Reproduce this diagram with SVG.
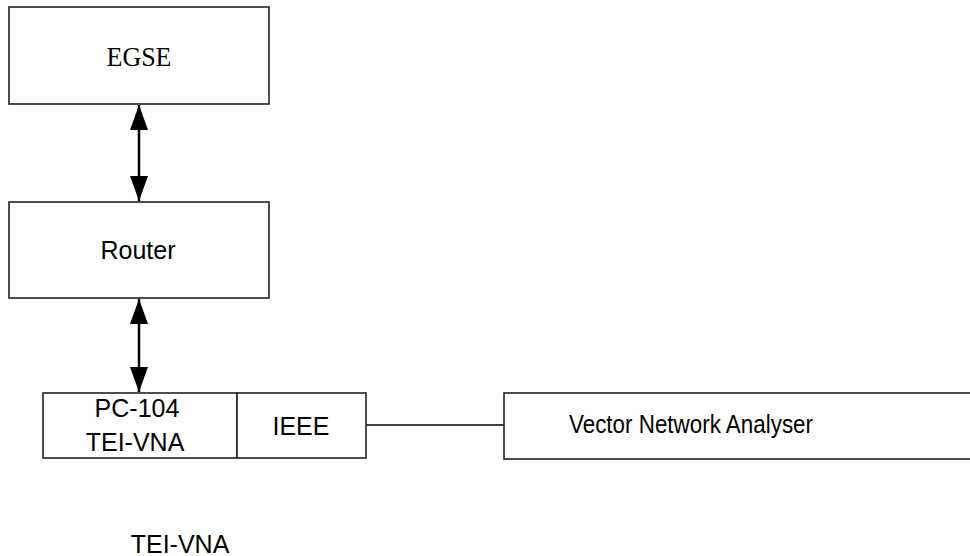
<svg xmlns="http://www.w3.org/2000/svg" width="970" height="556" viewBox="0 0 970 556">
<style>
.box{fill:#fff;stroke:#222;stroke-width:1.6}
.t{font-family:"Liberation Sans",Arial,sans-serif;font-size:25px;fill:#000;text-anchor:middle}
.ts{font-family:"Liberation Serif","Times New Roman",serif;font-size:27px;fill:#000;text-anchor:middle}
.ln{stroke:#000;fill:none}
</style>
<defs>
<marker id="ah" markerUnits="userSpaceOnUse" markerWidth="26" markerHeight="18" refX="25" refY="9" orient="auto-start-reverse" viewBox="0 0 26 18">
<path d="M0,0 L25,9 L0,18 Z" fill="#000"/>
</marker>
</defs>
<rect width="970" height="556" fill="#fff"/>
<g id="connectors">
<line class="ln" x1="139" y1="105" x2="139" y2="201" stroke-width="2.5" marker-start="url(#ah)" marker-end="url(#ah)"/>
<line class="ln" x1="139" y1="299" x2="139" y2="392" stroke-width="2.5" marker-start="url(#ah)" marker-end="url(#ah)"/>
<line class="ln" x1="366" y1="425" x2="504" y2="425" stroke-width="1.6"/>
</g>
<g id="egse">
<rect class="box" x="9" y="7" width="260" height="97"/>
<text class="ts" x="139" y="66" textLength="65" lengthAdjust="spacingAndGlyphs">EGSE</text>
</g>
<g id="router">
<rect class="box" x="9" y="202" width="260" height="96"/>
<text class="t" x="138" y="259">Router</text>
</g>
<g id="pc104">
<rect class="box" x="43" y="393" width="194" height="65"/>
<text class="t" x="137" y="417">PC-104</text>
<text class="t" x="135" y="451">TEI-VNA</text>
</g>
<g id="ieee">
<rect class="box" x="237" y="393" width="129" height="65"/>
<text class="t" x="301" y="435">IEEE</text>
</g>
<g id="vna">
<rect class="box" x="504" y="393" width="480" height="66"/>
<text class="t" x="691" y="433" textLength="244" lengthAdjust="spacingAndGlyphs">Vector Network Analyser</text>
</g>
<g id="label">
<text class="t" x="180" y="553">TEI-VNA</text>
</g>
</svg>
